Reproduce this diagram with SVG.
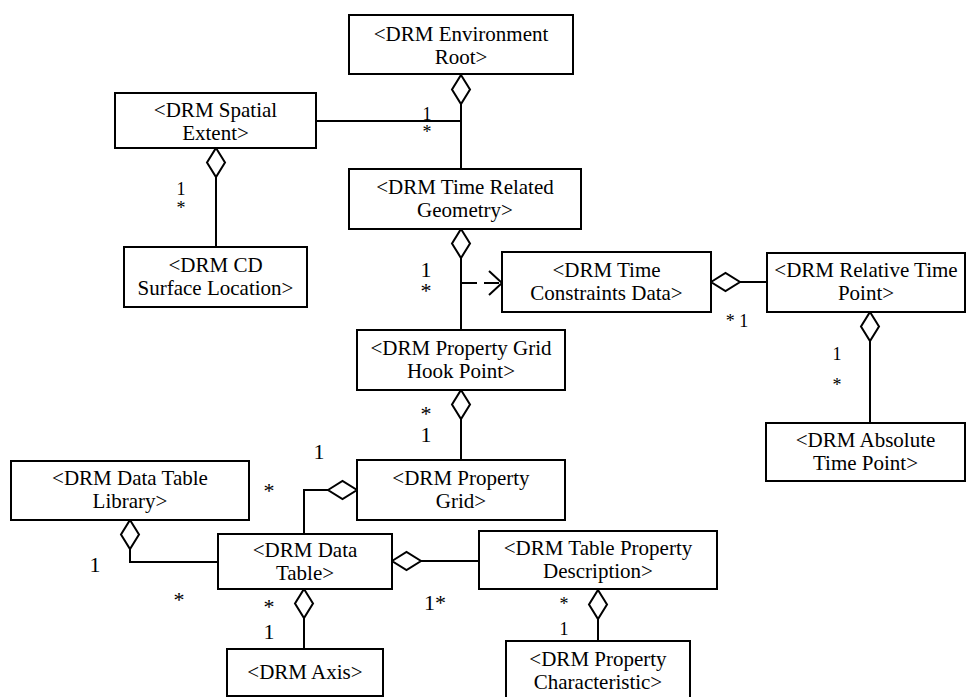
<svg xmlns="http://www.w3.org/2000/svg" width="967" height="697" viewBox="0 0 967 697">
<defs>
<polygon id="dv" points="0,0 9,14.5 0,29 -9,14.5" fill="#fff" stroke="#000" stroke-width="2"/>
<polygon id="dh" points="0,0 14.5,-9 29,0 14.5,9" fill="#fff" stroke="#000" stroke-width="2"/>
</defs>
<rect width="967" height="697" fill="#fff"/>
<g id="connectors" fill="none" stroke="#000" stroke-width="2">
<polyline points="461,104 461,169"/>
<polyline points="316,121 461,121"/>
<use href="#dv" x="461" y="75"/>
<polyline points="216,177 216,247"/>
<use href="#dv" x="216" y="148"/>
<polyline points="461,258 461,330"/>
<use href="#dv" x="461" y="229"/>
<line x1="462" y1="283" x2="501" y2="283" stroke-dasharray="15,7"/>
<polyline points="489,271 502,283 489,295"/>
<polyline points="740,282 767,282"/>
<use href="#dh" x="711" y="282"/>
<polyline points="870,341 870,423"/>
<use href="#dv" x="870" y="312"/>
<polyline points="461,419 461,460"/>
<use href="#dv" x="461" y="390"/>
<polyline points="304,534 304,490 328,490"/>
<use href="#dh" x="328" y="490"/>
<polyline points="130,549 130,562 218,562"/>
<use href="#dv" x="130" y="520"/>
<polyline points="421,561 479,561"/>
<use href="#dh" x="392" y="561"/>
<polyline points="304,618 304,649"/>
<use href="#dv" x="304" y="589"/>
<polyline points="598,619 598,641"/>
<use href="#dv" x="598" y="590"/>
</g>
<g id="labels">
<text font-family="Liberation Serif" font-size="18" text-anchor="middle" x="427" y="120">1</text>
<text font-family="Liberation Serif" font-size="18" text-anchor="middle" x="427" y="138">*</text>
<text font-family="Liberation Serif" font-size="18" text-anchor="middle" x="181" y="195">1</text>
<text font-family="Liberation Serif" font-size="18" text-anchor="middle" x="181" y="214">*</text>
<text font-family="Liberation Serif" font-size="22" text-anchor="middle" x="426" y="277">1</text>
<text font-family="Liberation Serif" font-size="22" text-anchor="middle" x="426" y="298">*</text>
<text font-family="Liberation Serif" font-size="18" text-anchor="middle" x="737" y="327">* 1</text>
<text font-family="Liberation Serif" font-size="18" text-anchor="middle" x="837" y="360">1</text>
<text font-family="Liberation Serif" font-size="18" text-anchor="middle" x="837" y="391">*</text>
<text font-family="Liberation Serif" font-size="22" text-anchor="middle" x="426" y="421">*</text>
<text font-family="Liberation Serif" font-size="22" text-anchor="middle" x="426" y="442">1</text>
<text font-family="Liberation Serif" font-size="22" text-anchor="middle" x="319" y="459">1</text>
<text font-family="Liberation Serif" font-size="22" text-anchor="middle" x="269" y="498">*</text>
<text font-family="Liberation Serif" font-size="22" text-anchor="middle" x="95" y="572">1</text>
<text font-family="Liberation Serif" font-size="22" text-anchor="middle" x="179" y="607">*</text>
<text font-family="Liberation Serif" font-size="22" text-anchor="middle" x="435" y="610">1*</text>
<text font-family="Liberation Serif" font-size="22" text-anchor="middle" x="269" y="614">*</text>
<text font-family="Liberation Serif" font-size="22" text-anchor="middle" x="269" y="639">1</text>
<text font-family="Liberation Serif" font-size="18" text-anchor="middle" x="564" y="610">*</text>
<text font-family="Liberation Serif" font-size="18" text-anchor="middle" x="564" y="635">1</text>
</g>
<g id="env-root"><rect x="349" y="15" width="224" height="59" fill="#fff" stroke="#000" stroke-width="2"/><text font-family="Liberation Serif" font-size="21" text-anchor="middle" x="461" y="41">&lt;DRM Environment</text><text font-family="Liberation Serif" font-size="21" text-anchor="middle" x="461" y="64">Root&gt;</text></g>
<g id="spatial-extent"><rect x="115" y="93" width="201" height="55" fill="#fff" stroke="#000" stroke-width="2"/><text font-family="Liberation Serif" font-size="21" text-anchor="middle" x="215.5" y="117">&lt;DRM Spatial</text><text font-family="Liberation Serif" font-size="21" text-anchor="middle" x="215.5" y="140">Extent&gt;</text></g>
<g id="time-related-geometry"><rect x="349" y="169" width="232" height="60" fill="#fff" stroke="#000" stroke-width="2"/><text font-family="Liberation Serif" font-size="21" text-anchor="middle" x="465" y="194">&lt;DRM Time Related</text><text font-family="Liberation Serif" font-size="21" text-anchor="middle" x="465" y="217">Geometry&gt;</text></g>
<g id="cd-surface-location"><rect x="124" y="247" width="183" height="60" fill="#fff" stroke="#000" stroke-width="2"/><text font-family="Liberation Serif" font-size="21" text-anchor="middle" x="215.5" y="272">&lt;DRM CD</text><text font-family="Liberation Serif" font-size="21" text-anchor="middle" x="215.5" y="295">Surface Location&gt;</text></g>
<g id="time-constraints-data"><rect x="502" y="252" width="209" height="60" fill="#fff" stroke="#000" stroke-width="2"/><text font-family="Liberation Serif" font-size="21" text-anchor="middle" x="606.5" y="277">&lt;DRM Time</text><text font-family="Liberation Serif" font-size="21" text-anchor="middle" x="606.5" y="300">Constraints Data&gt;</text></g>
<g id="relative-time-point"><rect x="767" y="253" width="198" height="59" fill="#fff" stroke="#000" stroke-width="2"/><text font-family="Liberation Serif" font-size="21" text-anchor="middle" x="866" y="277">&lt;DRM Relative Time</text><text font-family="Liberation Serif" font-size="21" text-anchor="middle" x="866" y="300">Point&gt;</text></g>
<g id="property-grid-hook-point"><rect x="357" y="330" width="208" height="60" fill="#fff" stroke="#000" stroke-width="2"/><text font-family="Liberation Serif" font-size="21" text-anchor="middle" x="461" y="355">&lt;DRM Property Grid</text><text font-family="Liberation Serif" font-size="21" text-anchor="middle" x="461" y="378">Hook Point&gt;</text></g>
<g id="absolute-time-point"><rect x="766" y="423" width="199" height="58" fill="#fff" stroke="#000" stroke-width="2"/><text font-family="Liberation Serif" font-size="21" text-anchor="middle" x="865.5" y="447">&lt;DRM Absolute</text><text font-family="Liberation Serif" font-size="21" text-anchor="middle" x="865.5" y="470">Time Point&gt;</text></g>
<g id="property-grid"><rect x="357" y="460" width="208" height="60" fill="#fff" stroke="#000" stroke-width="2"/><text font-family="Liberation Serif" font-size="21" text-anchor="middle" x="461" y="485">&lt;DRM Property</text><text font-family="Liberation Serif" font-size="21" text-anchor="middle" x="461" y="508">Grid&gt;</text></g>
<g id="data-table-library"><rect x="11" y="461" width="238" height="59" fill="#fff" stroke="#000" stroke-width="2"/><text font-family="Liberation Serif" font-size="21" text-anchor="middle" x="130" y="485">&lt;DRM Data Table</text><text font-family="Liberation Serif" font-size="21" text-anchor="middle" x="130" y="508">Library&gt;</text></g>
<g id="data-table"><rect x="218" y="534" width="174" height="55" fill="#fff" stroke="#000" stroke-width="2"/><text font-family="Liberation Serif" font-size="21" text-anchor="middle" x="305" y="557">&lt;DRM Data</text><text font-family="Liberation Serif" font-size="21" text-anchor="middle" x="305" y="580">Table&gt;</text></g>
<g id="table-property-description"><rect x="479" y="531" width="238" height="58" fill="#fff" stroke="#000" stroke-width="2"/><text font-family="Liberation Serif" font-size="21" text-anchor="middle" x="598" y="555">&lt;DRM Table Property</text><text font-family="Liberation Serif" font-size="21" text-anchor="middle" x="598" y="578">Description&gt;</text></g>
<g id="axis"><rect x="227" y="649" width="156" height="47" fill="#fff" stroke="#000" stroke-width="2"/><text font-family="Liberation Serif" font-size="21" text-anchor="middle" x="305" y="679">&lt;DRM Axis&gt;</text></g>
<g id="property-characteristic"><rect x="506" y="641" width="184" height="60" fill="#fff" stroke="#000" stroke-width="2"/><text font-family="Liberation Serif" font-size="21" text-anchor="middle" x="598" y="666">&lt;DRM Property</text><text font-family="Liberation Serif" font-size="21" text-anchor="middle" x="598" y="689">Characteristic&gt;</text></g>
</svg>
